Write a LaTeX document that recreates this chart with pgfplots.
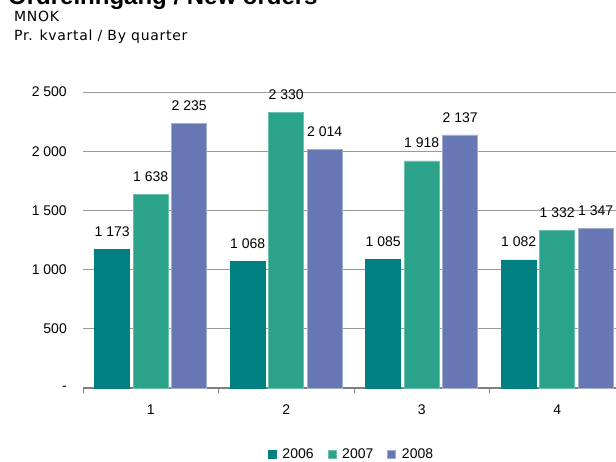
\documentclass[border=0pt]{standalone}
\usepackage{pgfplots}
\pgfplotsset{compat=1.18}
\usepackage{fontspec}
\setmainfont{Liberation Sans}
\newfontfamily\subfont[LetterSpace=5]{DejaVu Sans}
\definecolor{cA}{HTML}{008080}
\definecolor{cB}{HTML}{2BA38B}
\definecolor{cC}{HTML}{6677B3}
\definecolor{gridc}{HTML}{999999}
\definecolor{axc}{HTML}{7F7F7F}
\begin{document}
\begin{tikzpicture}
\begin{axis}[
  at={(83pt,73pt)}, anchor=south west,
  scale only axis, width=542pt, height=296pt,
  xmin=0.5, xmax=4.5, ymin=0, ymax=2500,
  ybar=3.5pt, bar width=35pt,
  xtick={1,2,3,4}, xticklabels={1,2,3,4},
  ytick={0,500,1000,1500,2000,2500},
  yticklabels={{-\hspace{16pt}},500,1 000,1 500,2 000,2 500},
  major tick length=0pt,
  extra x ticks={0.5,1.5,2.5,3.5,4.5},
  extra x tick labels={},
  extra x tick style={major tick length=5pt, tick align=outside, tick style={draw=axc, line width=0.8pt}, grid=none},
  ymajorgrids, grid style={draw=gridc, line width=0.9pt},
  axis x line*=bottom, axis y line*=left,
  y axis line style={draw=none},
  x axis line style={draw=axc, line width=1.5pt, -},
  tick label style={font=\fontsize{14}{16}\selectfont, text=black},
  yticklabel style={inner sep=0pt, xshift=-16pt},
  xticklabel style={inner sep=0pt, yshift=-17pt, anchor=north},
  /pgf/number format/assume math mode=true,
  /pgf/number format/1000 sep={\ },
  nodes near coords,
  every node near coord/.append style={font=\fontsize{14}{16}\selectfont, inner sep=0pt, yshift=12.5pt, text=black},
  legend style={at={(0.4954,-0.223)}, anchor=center, draw=none, legend columns=3,
    font=\fontsize{14}{16}\selectfont,
    /tikz/every odd column/.append style={column sep=4pt},
    /tikz/every even column/.append style={column sep=12pt}},
  legend image code/.code={\fill[#1] (0pt,-4pt) rectangle (8pt,4pt);},
]
\addplot[fill=cA, draw=cA, line width=0.6pt] coordinates {(1,1173) (2,1068) (3,1085) (4,1082)};
\addplot[fill=cB, draw=cB!70!white, line width=0.6pt] coordinates {(1,1638) (2,2330) (3,1918) (4,1332)};
\addplot[fill=cC, draw=cC!60!white, line width=0.6pt] coordinates {(1,2235) (2,2014) (3,2137) (4,1347)};
\legend{2006,2007,2008}
\end{axis}
\node[anchor=base west, inner sep=0pt, font=\fontsize{24}{28}\selectfont\bfseries] at (8pt,456pt) {Ordreinngang / New orders};
\node[anchor=base west, inner sep=0pt, font=\subfont\fontsize{14}{16}\selectfont] at (14pt,439pt) {MNOK};
\node[anchor=base west, inner sep=0pt, font=\subfont\fontsize{14}{16}\selectfont] at (14pt,420.3pt) {Pr. kvartal / By quarter};
\pgfresetboundingbox
\useasboundingbox (0pt,0pt) rectangle (616pt,461pt);
\end{tikzpicture}
\end{document}
